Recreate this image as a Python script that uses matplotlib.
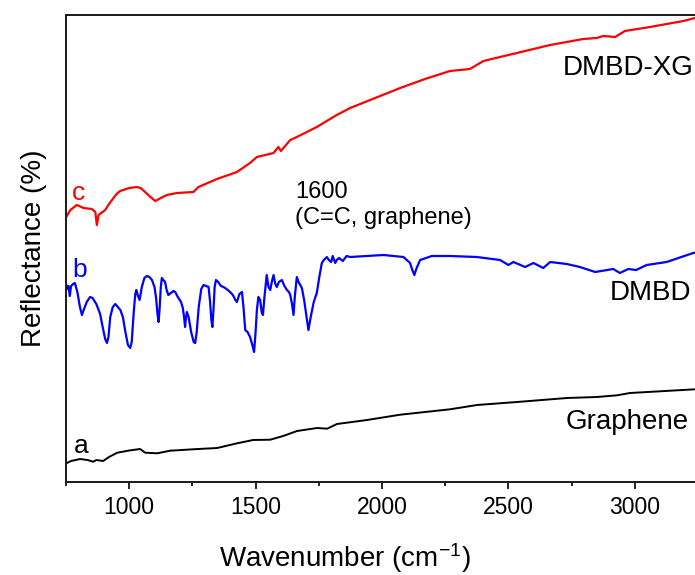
import matplotlib
matplotlib.use("Agg")
import matplotlib.pyplot as plt
from matplotlib.ticker import MultipleLocator

plt.rcParams['font.family'] = ['Liberation Sans', 'DejaVu Sans']
plt.rcParams['mathtext.default'] = 'regular'

# graphene (a)
wn_graphene = [751, 770, 806, 835, 858, 870, 897, 920, 953, 1000, 1043, 1063, 1111, 1162,
               1253, 1348, 1427, 1490, 1558, 1609, 1664, 1743, 1783, 1822, 1941, 2072,
               2269, 2376, 2534, 2732, 2850, 2930, 2981, 3238]
r_graphene = [18.7, 21, 23, 22, 20.3, 22, 21, 25, 29.3, 31.5, 33, 29.3, 28.7, 31.3,
              32.7, 34, 38.7, 42, 42.3, 46, 51, 54, 53.3, 58, 62, 67.3,
              72.7, 77, 80, 84, 85, 86.7, 89, 92.7]

# DMBD (b)
wn_dmbd = [751, 756, 760, 765, 770, 778, 785, 795, 805, 813, 820, 832, 845, 855, 870, 885,
           895, 905, 912, 918, 925, 935, 945, 955, 965, 975, 985, 995, 1004, 1010, 1018,
           1024, 1028, 1035, 1041, 1050, 1060, 1070, 1080, 1090, 1100, 1106, 1112, 1116,
           1120, 1125, 1129, 1135, 1142, 1148, 1155, 1165, 1175, 1182, 1190, 1195, 1205,
           1212, 1217, 1221, 1224, 1228, 1235, 1245, 1255, 1261, 1267, 1275, 1285, 1294,
           1304, 1314, 1320, 1325, 1329, 1334, 1338, 1343, 1352, 1363, 1373, 1385, 1399,
           1410, 1420, 1426, 1436, 1446, 1452, 1459, 1468, 1478, 1486, 1494, 1500, 1505,
           1511, 1518, 1524, 1529, 1535, 1544, 1551, 1558, 1564, 1571, 1578, 1584, 1592,
           1604, 1614, 1624, 1632, 1637, 1644, 1650, 1655, 1663, 1670, 1683, 1692, 1700,
           1709, 1718, 1730, 1742, 1752, 1762, 1770, 1782, 1790, 1799, 1805, 1815, 1821,
           1830, 1845, 1860, 1874, 1940, 2006, 2085, 2111, 2120, 2128, 2137, 2151, 2197,
           2269, 2375, 2467, 2500, 2520, 2566, 2599, 2638, 2665, 2731, 2783, 2843, 2915,
           2941, 2974, 3005, 3047, 3126, 3231, 3250]
r_dmbd = [197, 193, 196, 186, 196, 198, 199, 190, 175, 167, 172, 180, 185, 184, 178, 168,
          155, 143, 139, 145, 165, 175, 178, 175, 172, 165, 150, 137, 134, 140, 170,
          188, 192, 186, 182, 195, 204, 206, 205, 202, 195, 185, 168, 160,
          172, 195, 204, 202, 200, 192, 187, 189, 191, 190, 186, 184, 180,
          174, 165, 155, 163, 170, 165, 150, 140, 139, 150, 175, 193, 197,
          196, 195, 180, 162, 155, 175, 195, 202, 200, 196, 195, 193, 190,
          187, 182, 180, 188, 190, 175, 152, 150, 145, 138, 130, 150, 172,
          185, 182, 170, 167, 185, 207, 195, 192, 200, 207, 198, 195, 200,
          202, 196, 192, 190, 187, 178, 167, 185, 205, 200, 194, 182, 168,
          152, 165, 180, 189, 205, 219, 222, 225, 222, 220, 226, 219, 222,
          224, 221, 226, 225, 226, 227, 225, 219, 212, 207, 214, 222, 226,
          226, 225, 222, 217, 220, 215, 219, 214, 220, 218, 215, 210, 213,
          209, 213, 212, 217, 220, 229, 230]

# DMBD-XG (c)
wn_xg = [751, 767, 793, 819, 852, 866, 872, 879, 905, 920, 938, 950, 964, 1000, 1030, 1045,
         1063, 1080, 1103, 1125, 1149, 1189, 1254, 1274, 1347, 1426, 1478, 1505, 1571,
         1590, 1600, 1637, 1663, 1742, 1821, 1874, 1973, 2072, 2170, 2269, 2348, 2401,
         2533, 2665, 2796, 2849, 2875, 2922, 2961, 3060, 3192, 3238]
r_xg = [265, 272, 277, 274, 273, 270, 257, 267, 272, 278, 284, 288, 291, 294, 295, 294,
        290, 286, 281, 284, 287, 289, 290, 295, 303, 310, 319, 325, 329,
        335, 331, 342, 345, 355, 367, 374, 384, 394, 403, 411, 413, 421,
        429, 437, 443, 444, 446, 445, 451, 455, 461, 464]

fig = plt.figure(figsize=(6.95, 5.75), dpi=100)
ax = fig.add_axes([66 / 695, 93 / 575, 632 / 695, 467 / 575])

ax.plot(wn_graphene, r_graphene, color='black', lw=1.4)
ax.plot(wn_dmbd, r_dmbd, color='#0000ff', lw=1.6)
ax.plot(wn_xg, r_xg, color='#ff0000', lw=1.6)

ax.set_xlim(750, 3250)
ax.set_ylim(0, 467)
ax.set_yticks([])
ax.xaxis.set_major_locator(MultipleLocator(500))
ax.xaxis.set_minor_locator(MultipleLocator(250))
ax.tick_params(axis='x', which='major', direction='out', length=5, width=1.2,
               labelsize=16.5, pad=5)
ax.tick_params(axis='x', which='minor', direction='out', length=2.8, width=1.2)
for s in ax.spines.values():
    s.set_linewidth(1.4)
    s.set_color('#1a1a1a')

ax.set_ylabel('Reflectance (%)', fontsize=20, labelpad=14)
ax.set_xlabel('Wavenumber (cm$^{-1}$)', fontsize=20)
ax.xaxis.set_label_coords(0.441, -0.126)

ax.text(3232, 414, 'DMBD-XG', fontsize=20, ha='right', va='center')
ax.text(3225, 189, 'DMBD', fontsize=20, ha='right', va='center')
ax.text(3212, 60, 'Graphene', fontsize=20, ha='right', va='center')
ax.text(1656, 283.7, '1600', fontsize=17, ha='left', va='baseline')
ax.text(1656, 258, '(C=C, graphene)', fontsize=17, ha='left', va='baseline')
ax.text(773, 282, 'c', fontsize=19, color='#ff0000', ha='left', va='baseline')
ax.text(775, 205, 'b', fontsize=19, color='#0000ff', ha='left', va='baseline')
ax.text(780, 28.7, 'a', fontsize=19, color='black', ha='left', va='baseline')

fig.savefig('out.png', dpi=100)
